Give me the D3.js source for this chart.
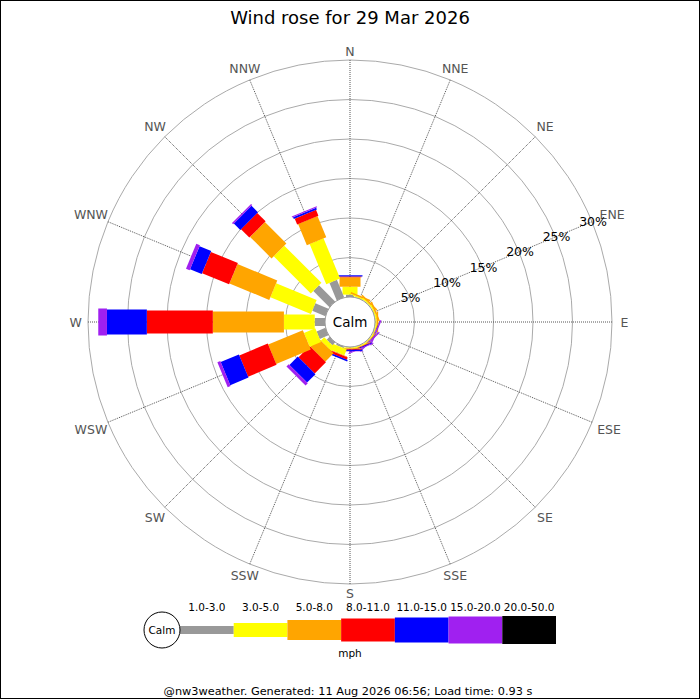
<!DOCTYPE html>
<html>
<head>
<meta charset="utf-8">
<script src="https://cdn.jsdelivr.net/npm/d3@7"></script>
<style>
  html, body { margin: 0; padding: 0; background: #fff; }
  svg { display: block; font-family: "DejaVu Sans", sans-serif; }
</style>
</head>
<body>
<svg id="chart" width="700" height="700"></svg>
<script>
// ---- data ----
const directions = ["N","NNE","NE","ENE","E","ESE","SE","SSE","S","SSW","SW","WSW","W","WNW","NW","NNW"];
const speedBins = ["1.0-3.0","3.0-5.0","5.0-8.0","8.0-11.0","11.0-15.0","15.0-20.0","20.0-50.0"];
const binColors = ["#999999","#ffff00","#ffa500","#ff0000","#0000ff","#a020f0","#000000"];
// percentage of time per direction, per speed bin (mph)
const bin1to3   = [0.3, 0.05,0.05,0.05,0.05,0.05,0.05,0.05,0.05,0.2, 0.5, 1.2, 1.3, 1.8, 2.9, 2.4];
const bin3to5   = [1.0, 0.15,0.15,0.15,0.15,0.1, 0.1, 0.1, 0.1, 0.8, 0.6, 1.55,3.9, 5.55,6.65,5.5];
const bin5to8   = [1.2, 0.2, 0.2, 0.2, 0.2, 0.1, 0.1, 0.1, 0.1, 0.1, 1.5, 4.75,9.0, 5.45,3.85,2.9];
const bin8to11  = [0.1, 0,   0,   0,   0,   0,   0,   0.05,0.1, 0.3, 2.0, 3.9, 8.35,3.7, 1.5, 0.8];
const bin11to15 = [0.15,0,   0,   0,   0,   0.05,0.05,0.1, 0.15,0.2, 1.5, 2.5, 5.05,1.6, 1.15,0.25];
const bin15to20 = [0,   0,   0,   0,   0,   0.15,0.15,0.1, 0.05,0,   0.4, 0.4, 1.1, 0.5, 0.2, 0.15];
const bin20to50 = [0,   0,   0,   0,   0,   0,   0,   0,   0,   0,   0,   0,   0,   0,   0,   0];
const series = [bin1to3, bin3to5, bin5to8, bin8to11, bin11to15, bin15to20, bin20to50];
const ringTicks = [5, 10, 15, 20, 25, 30];
const ringLabels = ["5%","10%","15%","20%","25%","30%"];
const titleText = "Wind rose for 29 Mar 2026";
const calmText = "Calm";
const unitText = "mph";
const footerText = "@nw3weather. Generated: 11 Aug 2026 06:56; Load time: 0.93 s";

// ---- layout ----
const svg = d3.select("#chart");
const cx = 350, cy = 322;
const calmR = 25;
const rScale = d3.scaleLinear().domain([0, 30]).range([calmR, 262]);
const angleScale = d3.scaleLinear().domain([0, directions.length]).range([0, 360]);
const widthScale = d3.scaleOrdinal().domain(speedBins).range([8, 15, 21, 23, 25, 27, 28]);
const legendWidth = d3.scaleOrdinal().domain(speedBins).range([8, 14, 20, 23, 25, 27, 28]);
const rad = d => (d - 90) * Math.PI / 180;

// border
svg.append("rect").attr("x", 0.5).attr("y", 0.5).attr("width", 699).attr("height", 698)
  .attr("fill", "none").attr("stroke", "#000");

// title
svg.append("text").attr("x", 350).attr("y", 24).attr("text-anchor", "middle")
  .attr("font-size", 18).attr("fill", "#000").text(titleText);

const g = svg.append("g").attr("transform", `translate(${cx},${cy})`);

// rings
g.selectAll("circle.ring").data(ringTicks).join("circle")
  .attr("class", "ring").attr("r", d => rScale(d))
  .attr("fill", "none").attr("stroke", "#aaaaaa").attr("stroke-width", 1);

// axes
g.selectAll("line.axis").data(directions).join("line")
  .attr("class", "axis")
  .attr("x1", (d, i) => rScale(0) * Math.cos(rad(angleScale(i))))
  .attr("y1", (d, i) => rScale(0) * Math.sin(rad(angleScale(i))))
  .attr("x2", (d, i) => rScale(30) * Math.cos(rad(angleScale(i))))
  .attr("y2", (d, i) => rScale(30) * Math.sin(rad(angleScale(i))))
  .attr("stroke", "#555").attr("stroke-width", 1).attr("stroke-dasharray", "1,1");

// direction labels
g.selectAll("text.dir").data(directions).join("text")
  .attr("class", "dir")
  .each(function(d, i) {
    const a = angleScale(i);
    const rr = 271 + d.length * 3.4 * Math.abs(Math.sin(a * Math.PI / 180));
    d3.select(this)
      .attr("x", rr * Math.cos(rad(a)) + (d === "ENE" ? 3 : 0))
      .attr("y", rr * Math.sin(rad(a)));
  })
  .attr("text-anchor", "middle").attr("dominant-baseline", "central")
  .attr("font-size", 12.5).attr("fill", "#555").text(d => d);

// legs
directions.forEach((dir, i) => {
  const leg = g.append("g").attr("transform", `rotate(${angleScale(i)})`);
  let cum = 0;
  speedBins.forEach((bin, k) => {
    const v = series[k][i];
    if (v <= 0) return;
    const r0 = rScale(cum), r1 = rScale(cum + v);
    cum += v;
    const w = widthScale(bin);
    leg.append("rect")
      .attr("x", -w / 2).attr("y", -r1)
      .attr("width", w).attr("height", r1 - r0)
      .attr("fill", binColors[k]);
  });
});

// ring labels along ENE axis
const labelAngle = angleScale(directions.indexOf("ENE"));
g.selectAll("text.ringlbl").data(ringTicks).join("text")
  .attr("class", "ringlbl")
  .attr("x", d => rScale(d) * Math.cos(rad(labelAngle)) + 1)
  .attr("y", d => rScale(d) * Math.sin(rad(labelAngle)))
  .attr("text-anchor", "middle").attr("dominant-baseline", "central")
  .attr("font-size", 12.5).attr("fill", "#000")
  .text((d, i) => ringLabels[i]);

// calm circle
g.append("circle").attr("r", calmR).attr("fill", "#fff").attr("stroke", "#999").attr("stroke-width", 1);
g.append("text").attr("x", 0).attr("y", 0).attr("text-anchor", "middle").attr("dominant-baseline", "central")
  .attr("font-size", 13.5).attr("fill", "#000").text(calmText);

// ---- legend ----
const legY = 630;
const legCalmX = 162, legCalmR = 18;
const legX = d3.scaleBand().domain(speedBins).range([legCalmX + legCalmR, 556]);
const leg = svg.append("g");
leg.selectAll("rect").data(speedBins).join("rect")
  .attr("x", d => legX(d)).attr("width", legX.bandwidth())
  .attr("y", d => legY - legendWidth(d) / 2).attr("height", d => legendWidth(d))
  .attr("fill", (d, k) => binColors[k]);
leg.selectAll("text.bin").data(speedBins).join("text")
  .attr("class", "bin")
  .attr("x", d => legX(d) + legX.bandwidth() / 2).attr("y", 611)
  .attr("text-anchor", "middle").attr("font-size", 10.5).attr("fill", "#000").text(d => d);
leg.append("circle").attr("cx", legCalmX).attr("cy", legY).attr("r", legCalmR)
  .attr("fill", "#fff").attr("stroke", "#000").attr("stroke-width", 1);
leg.append("text").attr("x", legCalmX).attr("y", legY).attr("text-anchor", "middle")
  .attr("dominant-baseline", "central").attr("font-size", 10.5).attr("fill", "#000").text(calmText);
leg.append("text").attr("x", 350).attr("y", 657).attr("text-anchor", "middle")
  .attr("font-size", 10.5).attr("fill", "#000").text(unitText);

// footer
svg.append("text").attr("x", 348).attr("y", 695).attr("text-anchor", "middle")
  .attr("font-size", 11.3).attr("fill", "#000").text(footerText);
</script>
</body>
</html>
